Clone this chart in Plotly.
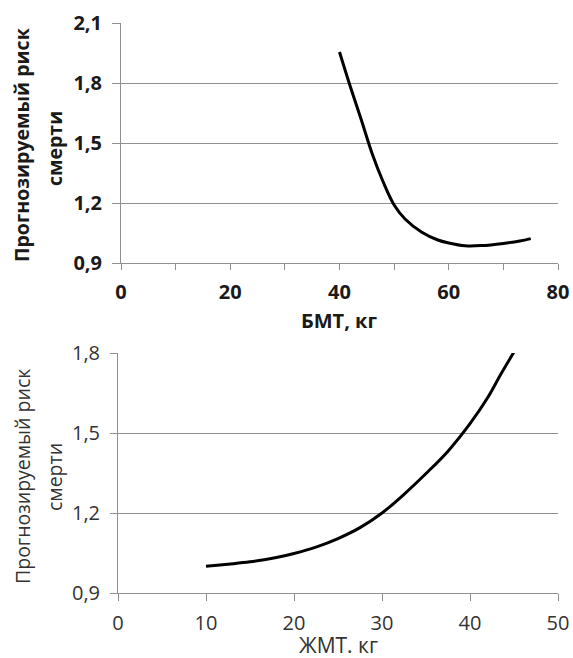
import plotly.graph_objects as go

# Top chart: predicted mortality risk vs lean body mass (БМТ)
bmt_x = [40, 42, 44, 46, 48, 50, 52, 55, 58, 60, 63, 66, 70, 73, 75]
bmt_risk = [1.955, 1.78, 1.615, 1.445, 1.305, 1.19, 1.12, 1.055, 1.015, 1.0, 0.986, 0.987, 0.998, 1.01, 1.022]

# Bottom chart: predicted mortality risk vs fat mass (ЖМТ)
zmt_x = [10, 12.5, 15, 18, 20, 22.5, 25, 27.5, 30, 32.5, 35, 37.5, 40, 42, 43.5, 45]
zmt_risk = [1.0, 1.008, 1.017, 1.033, 1.048, 1.072, 1.104, 1.145, 1.2, 1.27, 1.348, 1.432, 1.535, 1.632, 1.72, 1.804]

top_yticks = [0.9, 1.2, 1.5, 1.8, 2.1]
bot_yticks = [0.9, 1.2, 1.5, 1.8]

title_y = "Прогнозируемый риск"
title_y2 = "смерти"

W, H = 573, 658
FONT = "Open Sans"
GRID = "#8f8f8f"

fig = go.Figure()
fig.add_trace(go.Scatter(x=bmt_x, y=bmt_risk, mode="lines", line=dict(color="black", width=3, shape="spline"),
                         xaxis="x", yaxis="y", showlegend=False))
fig.add_trace(go.Scatter(x=zmt_x, y=zmt_risk, mode="lines", line=dict(color="black", width=3, shape="spline"),
                         xaxis="x2", yaxis="y2", showlegend=False))

def px(v):
    return v / W

def py(v):
    return 1 - v / H

tick_bold = dict(size=20, family=FONT, weight="bold", color="#1a1a1a")
tick_reg = dict(size=20, family=FONT, color="#333")
xt_bold = dict(size=20, family=FONT, weight="bold", color="#1a1a1a")
xt_reg = dict(size=21, family=FONT, color="#333")
yt_bold = dict(size=19.5, family=FONT, weight="bold", color="#1a1a1a")
yt_reg = dict(size=19.5, family=FONT, color="#333")

fig.update_layout(
    template="none",
    width=W, height=H,
    margin=dict(l=0, r=0, t=0, b=0, pad=0),
    paper_bgcolor="white", plot_bgcolor="white",
    separators=", ",
    font=dict(family=FONT, color="#222"),
    xaxis=dict(domain=[px(121), px(558)], anchor="y", range=[0, 80], dtick=20, tick0=0, automargin=False,
               showgrid=False, zeroline=False, showline=True, linecolor=GRID, linewidth=1,
               ticks="outside", ticklen=6, tickcolor=GRID,
               minor=dict(dtick=10, ticks="outside", ticklen=6, tickcolor=GRID, showgrid=False),
               tickfont=tick_bold, ticklabelstandoff=5),
    yaxis=dict(domain=[py(263), py(23)], anchor="x", range=[0.9, 2.1], tickvals=top_yticks, automargin=False,
               tickformat=".1f", showgrid=True, gridcolor=GRID, gridwidth=1, zeroline=False,
               showline=True, linecolor=GRID, linewidth=1,
               ticks="outside", ticklen=8, tickcolor=GRID,
               tickfont=tick_bold, ticklabelstandoff=6),
    xaxis2=dict(domain=[px(118), px(558)], anchor="y2", range=[0, 50], dtick=10, tick0=0, automargin=False,
                showgrid=False, zeroline=False, showline=True, linecolor=GRID, linewidth=1,
                ticks="outside", ticklen=7, tickcolor=GRID,
                tickfont=tick_reg, ticklabelstandoff=5),
    yaxis2=dict(domain=[py(593), py(353)], anchor="x2", range=[0.9, 1.8], tickvals=bot_yticks, automargin=False,
                tickformat=".1f", showgrid=True, gridcolor=GRID, gridwidth=1, zeroline=False,
                showline=True, linecolor=GRID, linewidth=1,
                ticks="outside", ticklen=7, tickcolor=GRID,
                tickfont=tick_reg, ticklabelstandoff=6),
    annotations=[
        dict(text="БМТ, кг", xref="paper", yref="paper", x=px(339), y=py(320), showarrow=False,
             font=xt_bold, xanchor="center", yanchor="middle"),
        dict(text=title_y, xref="paper", yref="paper", x=px(22), y=py(145),
             showarrow=False, textangle=-90, font=yt_bold, xanchor="center", yanchor="middle"),
        dict(text=title_y2, xref="paper", yref="paper", x=px(54), y=py(149),
             showarrow=False, textangle=-90, font=yt_bold, xanchor="center", yanchor="middle"),
        dict(text="ЖМТ. кг", xref="paper", yref="paper", x=px(338), y=py(645), showarrow=False,
             font=xt_reg, xanchor="center", yanchor="middle"),
        dict(text=title_y, xref="paper", yref="paper", x=px(22), y=py(477),
             showarrow=False, textangle=-90, font=yt_reg, xanchor="center", yanchor="middle"),
        dict(text=title_y2, xref="paper", yref="paper", x=px(54), y=py(477),
             showarrow=False, textangle=-90, font=yt_reg, xanchor="center", yanchor="middle"),
    ],
)

fig.write_html("out.html")
